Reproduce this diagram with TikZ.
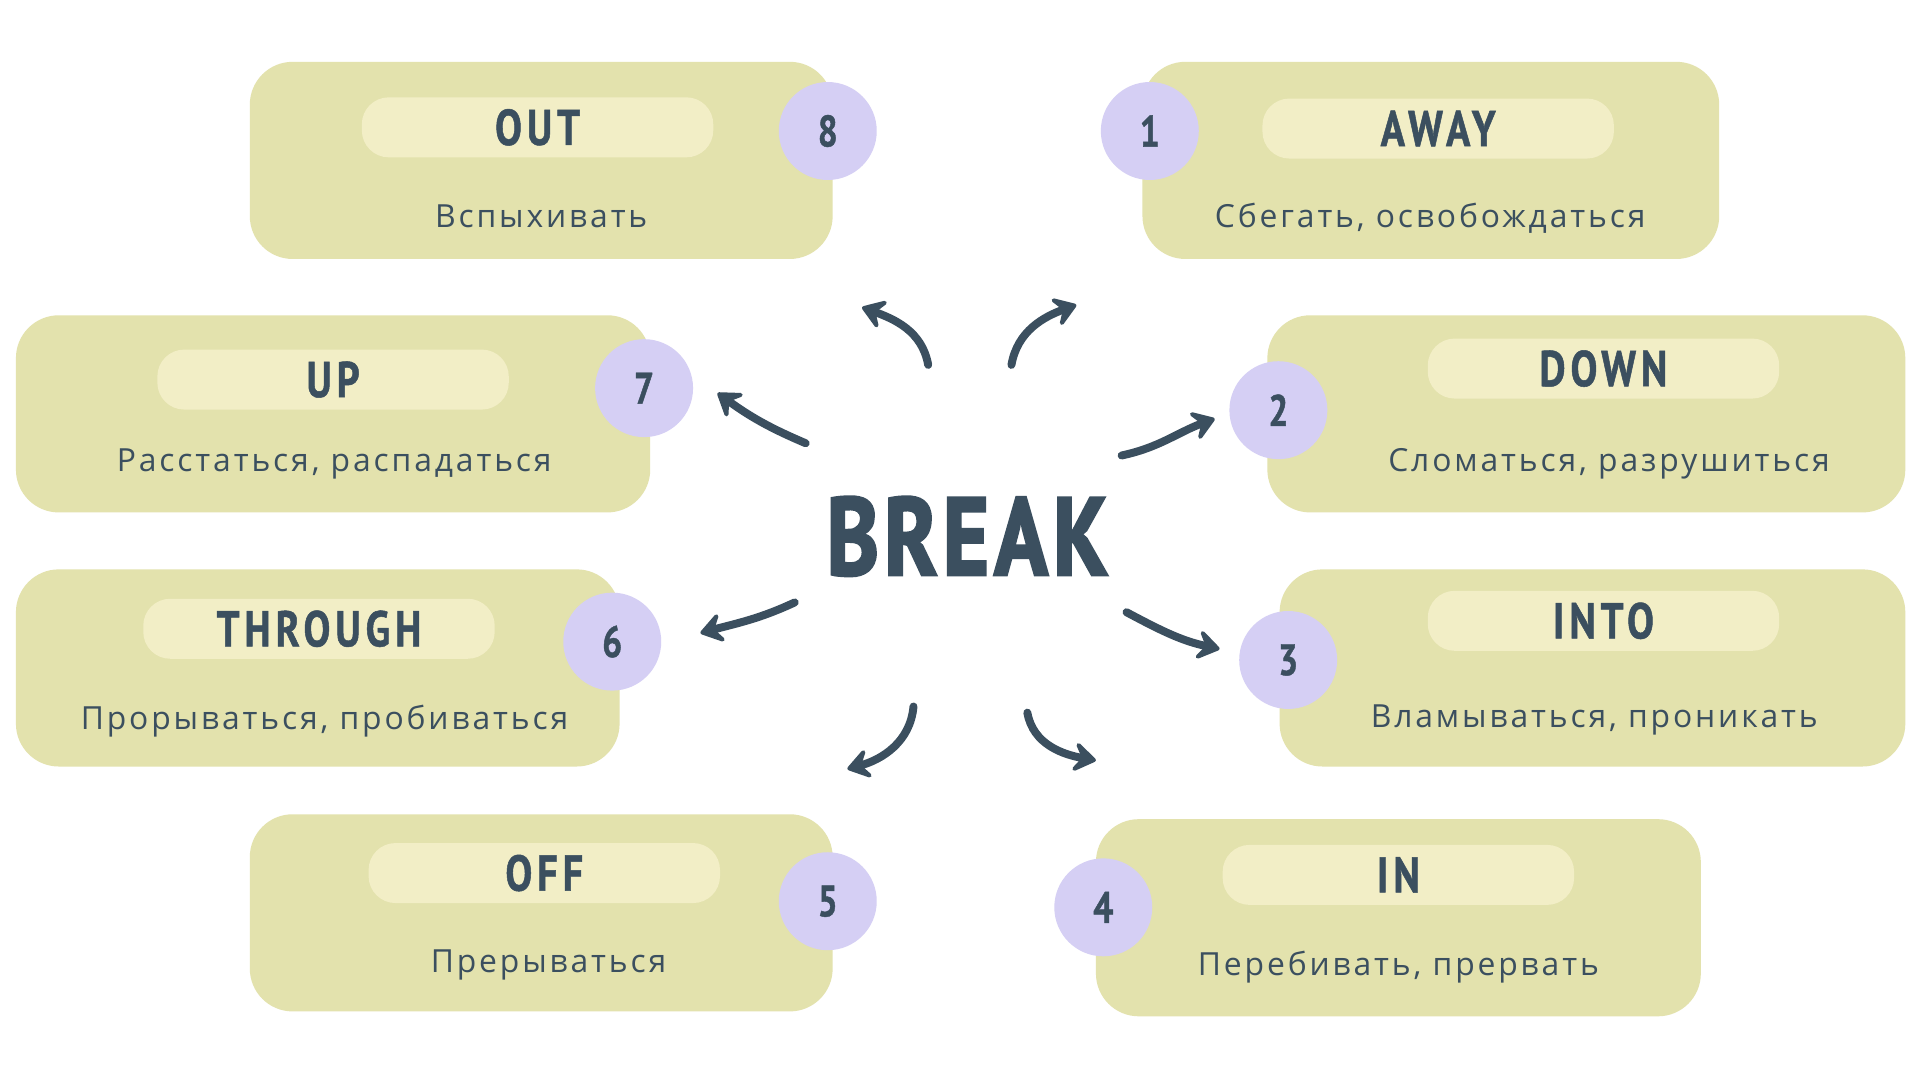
\documentclass[tikz,border=0pt]{standalone}
\usepackage{fontspec}
\usepackage{tikz}
\usetikzlibrary{arrows.meta, positioning}
\setmainfont{Open Sans}[LetterSpace=9]
\newfontfamily\titlefont{PT Sans}[FakeStretch=0.8, LetterSpace=10, FakeBold=1]
\newfontfamily\breakfont{PT Sans}[FakeStretch=0.8, LetterSpace=5, FakeBold=2.5]
\definecolor{ink}{HTML}{3B4F5F}
\definecolor{cardfill}{HTML}{E3E2AD}
\definecolor{pillfill}{HTML}{F2EEC6}
\definecolor{numfill}{HTML}{D5CFF4}

\begin{document}
\begin{tikzpicture}[x=1pt, y=1pt,
  card/.style={rectangle, rounded corners=35pt, fill=cardfill,
    minimum height=161pt, inner sep=0pt},
  pill/.style={rectangle, rounded corners=22pt, fill=pillfill, text=ink,
    minimum width=287pt, minimum height=49pt, inner sep=0pt,
    font=\titlefont\bfseries\fontsize{41}{41}\selectfont},
  num/.style={circle, fill=numfill, minimum size=80pt, inner sep=0pt, text=ink,
    font=\titlefont\bfseries\fontsize{36}{36}\selectfont},
  meaning/.style={anchor=base, text=ink, font=\fontsize{26}{26}\selectfont},
  arrow/.style={-{Stealth[length=23pt, width=31pt, inset=10pt, round]}, line width=6.5pt,
    line cap=round, ink}
]
  \fill[white] (0,0) rectangle (1568,882);
  \useasboundingbox (0,0) rectangle (1568,882);

  % cards
  \node[card, minimum width=476pt] (outcard) at (442,751) {};
  \node[card, minimum width=471pt] (awaycard) at (1168.5,751) {};
  \node[card, minimum width=518pt] (upcard) at (272,544) {};
  \node[card, minimum width=521pt] (downcard) at (1295.5,544) {};
  \node[card, minimum width=493pt] (throughcard) at (259.5,336.5) {};
  \node[card, minimum width=511pt] (intocard) at (1300.5,336.5) {};
  \node[card, minimum width=476pt] (offcard) at (442,136.5) {};
  \node[card, minimum width=494pt] (incard) at (1142,132.5) {};

  % particles
  \node[pill] (out) at (439,778) {OUT};
  \node[pill] (away) at (1174.5,777) {AWAY};
  \node[pill] (up) at (272,572) {UP};
  \node[pill] (down) at (1309.5,581) {DOWN};
  \node[pill] (through) at (260.5,368.5) {THROUGH};
  \node[pill] (into) at (1309.5,375) {INTO};
  \node[pill] (off) at (444.5,169) {OFF};
  \node[pill] (in) at (1142,167.5) {IN};

  % meanings
  \node[meaning] (outtext) at (442,696) {Вспыхивать};
  \node[meaning] (awaytext) at (1168,696) {Сбегать, освобождаться};
  \node[meaning] (uptext) at (273,497) {Расстаться, распадаться};
  \node[meaning] (downtext) at (1314,497) {Сломаться, разрушиться};
  \node[meaning] (throughtext) at (265,286) {Прорываться, пробиваться};
  \node[meaning] (intotext) at (1302,288) {Вламываться, проникать};
  \node[meaning] (offtext) at (448,88) {Прерываться};
  \node[meaning] (intext) at (1142,85) {Перебивать, прервать};

  % numbers
  \node[num] (n1) at (939,775) {1};
  \node[num] (n2) at (1044,547) {2};
  \node[num] (n3) at (1052,343) {3};
  \node[num] (n4) at (901,141) {4};
  \node[num] (n5) at (676,146) {5};
  \node[num] (n6) at (500,358) {6};
  \node[num] (n7) at (526,565) {7};
  \node[num] (n8) at (676,775) {8};

  % centre word
  \node[text=ink, font=\breakfont\bfseries\fontsize{90}{90}\selectfont] (break) at (790,444) {BREAK};

  % arrows
  \coordinate (t1) at (826,584); \coordinate (h1) at (879,633);
  \coordinate (t2) at (916,510); \coordinate (h2) at (992,540);
  \coordinate (t3) at (920,382); \coordinate (h3) at (996,352);
  \coordinate (t4) at (839,300); \coordinate (h4) at (895,261);
  \coordinate (t5) at (746,305); \coordinate (h5) at (692,254);
  \coordinate (t6) at (649,390); \coordinate (h6) at (572,365);
  \coordinate (t7) at (658,520); \coordinate (h7) at (586,561);
  \coordinate (t8) at (758,584); \coordinate (h8) at (704,631);

  \draw[arrow] (t1) to[out=80, in=200] (h1);
  \draw[arrow] (t2) to[out=12, in=200] (h2);
  \draw[arrow] (t3) to[out=-28, in=168] (h3);
  \draw[arrow] (t4) to[out=-80, in=170] (h4);
  \draw[arrow] (t5) to[out=-95, in=15] (h5);
  \draw[arrow] (t6) to[out=205, in=15] (h6);
  \draw[arrow] (t7) to[out=157, in=-36] (h7);
  \draw[arrow] (t8) to[out=100, in=-20] (h8);
\end{tikzpicture}
\end{document}
